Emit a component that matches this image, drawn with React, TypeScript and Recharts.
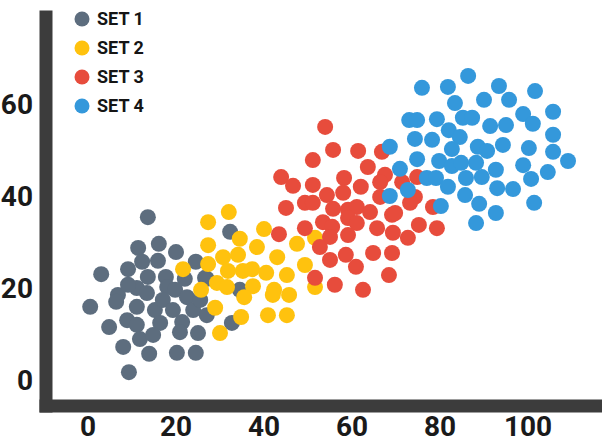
import React from 'react';
import { ScatterChart, Scatter, XAxis, YAxis } from 'recharts';

const X_TICKS = [0, 20, 40, 60, 80, 100];
const Y_TICKS = [0, 20, 40, 60];

const SET_NAMES = ['SET 1', 'SET 2', 'SET 3', 'SET 4'];

const COLORS = ['#5d6d7e', '#ffc20e', '#e74c3c', '#3498db'];

const SET1_X = [13.6, 11.4, 16.1, 20.0, 3.0, 9.1, 12.3, 15.9, 24.5, 13.6, 17.7, 22.0, 27.0, 6.8, 11.1, 13.4, 18.0, 19.8, 22.5, 0.5, 6.4, 11.1, 15.2, 17.0, 19.3, 23.9, 27.0, 8.9, 11.1, 16.4, 21.4, 4.8, 11.8, 14.8, 20.9, 25.0, 8.0, 13.9, 20.2, 24.5, 9.3, 32.3, 26.6, 34.5, 32.7, 25.5, 9.1];
const SET1_Y = [35.4, 28.7, 29.6, 27.8, 23.0, 24.1, 25.7, 25.9, 25.7, 22.4, 22.4, 22.0, 22.0, 18.5, 20.0, 18.9, 20.2, 19.6, 18.0, 15.9, 17.0, 15.9, 15.2, 17.4, 15.2, 15.2, 14.1, 13.0, 12.0, 12.4, 12.6, 11.5, 8.9, 9.8, 10.4, 10.2, 7.2, 5.7, 5.9, 5.9, 1.7, 32.2, 22.2, 19.6, 12.4, 17.4, 20.7];

const SET2_X = [32.0, 27.3, 40.0, 34.5, 27.3, 38.4, 47.5, 51.6, 30.7, 34.1, 43.0, 21.6, 27.3, 31.8, 35.2, 37.3, 40.5, 49.3, 45.2, 29.3, 31.6, 37.5, 25.7, 42.3, 35.5, 42.0, 45.7, 51.6, 28.9, 34.8, 40.9, 45.2, 30.0];
const SET2_Y = [36.5, 34.3, 32.8, 30.7, 29.3, 28.9, 29.6, 30.9, 26.7, 27.2, 26.7, 24.1, 25.2, 23.7, 23.7, 24.1, 23.3, 25.0, 22.8, 21.1, 20.2, 20.4, 19.6, 19.6, 18.0, 18.5, 18.5, 20.2, 15.7, 13.7, 14.1, 14.1, 10.2];

const SET3_X = [53.9, 55.7, 61.4, 66.8, 51.1, 63.6, 43.9, 46.6, 51.1, 58.2, 62.0, 67.5, 66.4, 71.4, 74.8, 45.0, 49.3, 51.1, 54.3, 58.0, 66.4, 74.3, 73.2, 78.4, 55.7, 59.1, 61.1, 64.1, 59.1, 61.1, 53.4, 55.5, 69.1, 49.3, 65.7, 75.2, 79.3, 43.4, 55.0, 59.1, 69.3, 72.7, 52.7, 55.0, 58.6, 64.8, 69.1, 60.9, 51.6, 68.4, 56.1, 62.5, 69.8];
const SET3_Y = [55.0, 50.0, 49.8, 49.6, 47.8, 46.3, 44.1, 42.2, 42.4, 43.9, 42.0, 44.6, 43.0, 43.0, 44.1, 37.4, 38.5, 38.5, 40.2, 40.7, 39.8, 39.8, 38.5, 37.6, 37.2, 37.0, 37.6, 36.5, 35.2, 34.1, 34.3, 33.3, 35.9, 33.0, 33.0, 33.7, 33.0, 31.7, 31.1, 31.5, 32.0, 30.9, 28.9, 26.1, 27.2, 27.6, 27.6, 24.6, 22.2, 22.8, 20.7, 19.6, 36.3];

const SET4_X = [86.4, 75.9, 81.8, 93.4, 101.6, 83.4, 90.0, 95.7, 105.7, 73.0, 74.8, 79.3, 85.2, 87.3, 98.9, 101.1, 91.4, 95.0, 82.0, 84.5, 74.3, 78.2, 105.7, 94.3, 82.7, 88.6, 90.7, 100.2, 105.7, 68.6, 74.8, 79.8, 82.7, 84.8, 88.2, 92.7, 98.9, 109.1, 104.5, 70.9, 77.0, 79.1, 85.9, 89.5, 100.7, 81.8, 93.0, 96.6, 72.7, 68.6, 85.7, 88.9, 101.4, 80.2, 92.7, 88.2];
const SET4_Y = [66.1, 63.5, 63.7, 63.9, 62.8, 60.2, 60.9, 60.9, 58.3, 56.5, 56.5, 56.7, 57.0, 57.0, 57.8, 55.7, 55.2, 55.4, 54.3, 52.8, 52.4, 52.2, 53.3, 51.1, 50.2, 50.7, 49.8, 50.4, 49.6, 50.7, 48.0, 47.6, 46.5, 47.2, 47.2, 45.7, 46.7, 47.6, 45.2, 45.9, 43.9, 43.9, 43.9, 44.1, 43.7, 42.0, 41.7, 41.5, 41.3, 40.0, 40.2, 38.3, 38.5, 37.8, 36.3, 34.1];

const SETS = [
  SET1_X.map((x, i) => ({ x, y: SET1_Y[i] })),
  SET2_X.map((x, i) => ({ x, y: SET2_Y[i] })),
  SET3_X.map((x, i) => ({ x, y: SET3_Y[i] })),
  SET4_X.map((x, i) => ({ x, y: SET4_Y[i] })),
];

const AXIS_COLOR = '#3c3c3c';
const FONT = 'Roboto, "DejaVu Sans", sans-serif';

const dot = (color: string) => (props: any) => (
  <circle cx={props.cx} cy={props.cy} r={8} fill={color} />
);

// legend sits on top of the chart so it doesn't eat into the plot area
const LegendBox = () => (
  <div style={{ position: 'absolute', left: 74, top: 4, fontFamily: FONT }}>
    {SET_NAMES.map((name, i) => (
      <div key={name} style={{ display: 'flex', alignItems: 'center', height: 29 }}>
        <svg width={16} height={16} style={{ marginRight: 7 }}>
          <circle cx={8} cy={8} r={7.5} fill={COLORS[i]} />
        </svg>
        <span style={{ fontSize: 18, fontWeight: 700, color: '#151515' }}>{name}</span>
      </div>
    ))}
  </div>
);

export default function App() {
  const tickStyle = { fontSize: 28, fontWeight: 700, fill: '#1a1a1a', fontFamily: FONT };
  return (
    <div style={{ position: 'absolute', left: 0, top: 0, width: 602, height: 446, background: '#fff' }}>
      <ScatterChart width={602} height={446} margin={{ top: 17, right: 0, bottom: 0, left: 0 }}>
        <XAxis
          type="number"
          dataKey="x"
          domain={[-9.545, 116.82]}
          ticks={X_TICKS}
          allowDataOverflow
          height={40}
          tickLine={false}
          tickSize={6}
          tickMargin={4}
          axisLine={{ stroke: AXIS_COLOR, strokeWidth: 13, strokeLinecap: 'square' }}
          tick={tickStyle}
        />
        <YAxis
          type="number"
          dataKey="y"
          domain={[-5.65, 78.9]}
          ticks={Y_TICKS}
          allowDataOverflow
          width={46}
          tickLine={false}
          tickSize={6}
          tickMargin={7}
          axisLine={{ stroke: AXIS_COLOR, strokeWidth: 13, strokeLinecap: 'square' }}
          tick={tickStyle}
        />
        {SETS.map((data, i) => (
          <Scatter
            key={SET_NAMES[i]}
            name={SET_NAMES[i]}
            data={data}
            fill={COLORS[i]}
            shape={dot(COLORS[i])}
            isAnimationActive={false}
          />
        ))}
      </ScatterChart>
      <LegendBox />
    </div>
  );
}
